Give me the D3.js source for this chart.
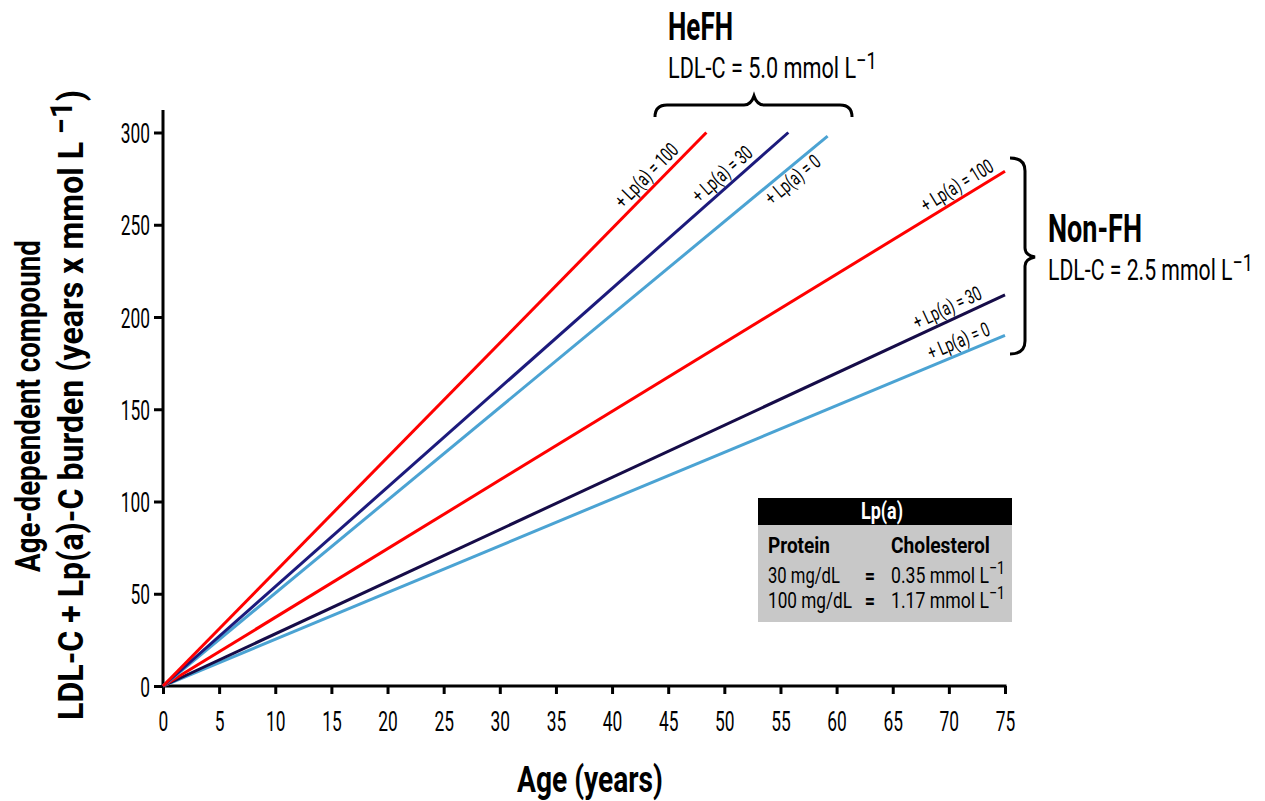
<!DOCTYPE html>
<html>
<head>
<meta charset="utf-8">
<script src="https://cdn.jsdelivr.net/npm/d3@7"></script>
<style>
  body { margin: 0; background: #fff; }
  svg { display: block; }
</style>
</head>
<body>
<svg id="chart" width="1265" height="801"></svg>
<script>
// ---- data ----
var xTicks = [0, 5, 10, 15, 20, 25, 30, 35, 40, 45, 50, 55, 60, 65, 70, 75];
var yTicks = [0, 50, 100, 150, 200, 250, 300];

var groups = ["HeFH", "HeFH", "HeFH", "Non-FH", "Non-FH", "Non-FH"];
var lpaLabels = ["+ Lp(a) = 100", "+ Lp(a) = 30", "+ Lp(a) = 0", "+ Lp(a) = 100", "+ Lp(a) = 30", "+ Lp(a) = 0"];
var endAge = [48.4, 55.7, 59.2, 75, 75, 75];
var endBurden = [300, 300, 298, 279, 212, 190];
var labelAge = [46.4, 53.0, 57.7, 74.4, 73.3, 74.0];
var labelSide = ["above", "above", "below", "above", "above", "above"];
var lineColors = ["#ff0000", "#1c1a7c", "#4ba3d3", "#ff0000", "#160c48", "#4ba3d3"];

var tableHead = "Lp(a)";
var tableCols = ["Protein", "Cholesterol"];
var tableProtein = ["30 mg/dL", "100 mg/dL"];
var tableChol = ["0.35", "1.17"];

var FONT = "Roboto, 'Liberation Sans', sans-serif";

var svg = d3.select("#chart");

var margin = { top: 132.5, left: 163, bottom: 115, right: 260 };
var svgWidth = 1265, svgHeight = 801;

var x = d3.scaleLinear().domain([0, 75]).range([margin.left, svgWidth - margin.right]);
var y = d3.scaleLinear().domain([0, 300]).range([svgHeight - margin.bottom, margin.top]);

// text helper: condensed look via horizontal scale, optionally fitted to a width
function addText(parent, px, py, parts, o) {
  var g = parent.append("g");
  var t = g.append("text")
    .attr("y", o.dy || 0)
    .attr("font-family", FONT)
    .attr("font-size", o.size)
    .attr("font-weight", o.weight || "normal")
    .attr("fill", o.fill || "#000")
    .attr("text-anchor", o.anchor || "start");
  var raised = 0;
  parts.forEach(function (p) {
    var ts = t.append("tspan").text(p.t);
    if (p.sup) {
      var up = o.size * (p.up || 0.32);
      ts.attr("font-size", o.size * (p.scale || 0.85)).attr("dy", -up);
      raised = up;
    } else if (raised) {
      ts.attr("dy", raised);
      raised = 0;
    }
  });
  var sx = o.sx || 1;
  if (o.width) sx = o.width / t.node().getBBox().width;
  g.attr("transform", "translate(" + px + "," + py + ") rotate(" + (o.rotate || 0) + ") scale(" + sx + ",1)");
  return t;
}

// ---- axes ----
var axisG = svg.append("g").attr("class", "axes");

var xAxisG = axisG.append("g")
  .attr("transform", "translate(0," + y(0) + ")")
  .call(d3.axisBottom(x).tickValues(xTicks).tickSize(8).tickSizeOuter(0));
xAxisG.select(".domain").remove();
xAxisG.selectAll(".tick line").attr("stroke", "#000").attr("stroke-width", 3);
xAxisG.selectAll(".tick text")
  .attr("y", 0).attr("dy", 0)
  .attr("transform", "translate(0,45) scale(0.62,1)")
  .attr("font-family", FONT).attr("font-size", 28).attr("fill", "#000");

var yAxisG = axisG.append("g")
  .attr("transform", "translate(" + x(0) + ",0)")
  .call(d3.axisLeft(y).tickValues(yTicks).tickSize(9).tickSizeOuter(0));
yAxisG.select(".domain").remove();
yAxisG.selectAll(".tick line").attr("stroke", "#000").attr("stroke-width", 3);
yAxisG.selectAll(".tick text")
  .attr("x", 0).attr("dy", 0)
  .attr("transform", "translate(-13,10) scale(0.62,1)")
  .attr("font-family", FONT).attr("font-size", 28).attr("fill", "#000");

axisG.append("line")
  .attr("x1", x(0) - 1.5).attr("x2", x(75) + 1.5)
  .attr("y1", y(0)).attr("y2", y(0))
  .attr("stroke", "#000").attr("stroke-width", 3);
axisG.append("line")
  .attr("x1", x(0)).attr("x2", x(0))
  .attr("y1", y(0) + 1.5).attr("y2", 110)
  .attr("stroke", "#000").attr("stroke-width", 3);

// ---- burden lines ----
var line = d3.line().x(function (d) { return x(d[0]); }).y(function (d) { return y(d[1]); });
var linesG = svg.append("g").attr("class", "lines");
var order = [5, 4, 3, 2, 1, 0];
order.forEach(function (i) {
  linesG.append("path")
    .attr("d", line([[0, 0], [endAge[i], endBurden[i]]]))
    .attr("fill", "none")
    .attr("stroke", lineColors[i])
    .attr("stroke-width", 3);
});

// line labels, rotated along each line; one common squeeze taken from the widest label
var labelsG = svg.append("g").attr("class", "lineLabels");
var probe = labelsG.append("text").attr("font-family", FONT).attr("font-size", 20).text(lpaLabels[0]);
var labelSx = 81 / probe.node().getBBox().width;
probe.remove();
for (var i = 0; i < lpaLabels.length; i++) {
  var a = labelAge[i];
  var px = x(a);
  var py = y(endBurden[i] * a / endAge[i]);
  var ang = Math.atan2(y(endBurden[i]) - y(0), x(endAge[i]) - x(0)) * 180 / Math.PI;
  addText(labelsG, px, py, [{ t: lpaLabels[i] }], {
    size: 20, sx: labelSx, rotate: ang, anchor: "end",
    dy: labelSide[i] == "above" ? -6 : 18
  });
}

// ---- braces + group titles ----
var annG = svg.append("g").attr("class", "annotations");
annG.append("path")
  .attr("d", "M655,117 Q655,105 667,105 L744,105 Q751,105 754,96 Q757,105 764,105 L840,105 Q852,105 852,117")
  .attr("fill", "none").attr("stroke", "#000").attr("stroke-width", 3);
annG.append("path")
  .attr("d", "M1010,158 Q1025,158 1025,171 L1025,248 Q1025,255 1035,257 Q1025,259 1025,266 L1025,341 Q1025,354 1010,354")
  .attr("fill", "none").attr("stroke", "#000").attr("stroke-width", 3);

addText(annG, 668, 40, [{ t: groups[0] }], { size: 38, weight: "bold", width: 65 });
addText(annG, 668, 78, [{ t: "LDL-C = 5.0 mmol L" }, { t: "\u22121", sup: true, up: 0.32, scale: 0.85 }], { size: 29, width: 209 });
addText(annG, 1048, 242, [{ t: groups[3] }], { size: 38, weight: "bold", width: 94 });
addText(annG, 1048, 280, [{ t: "LDL-C = 2.5 mmol L" }, { t: "\u22121", sup: true, up: 0.32, scale: 0.85 }], { size: 29, width: 205 });

// ---- Lp(a) conversion table ----
var tabG = svg.append("g").attr("class", "table");
tabG.append("rect").attr("x", 758).attr("y", 525).attr("width", 254).attr("height", 97).attr("fill", "#c8c8c8");
tabG.append("rect").attr("x", 758).attr("y", 498).attr("width", 254).attr("height", 27).attr("fill", "#000");
addText(tabG, 882, 519, [{ t: tableHead }], { size: 23, weight: "bold", width: 42, fill: "#fff", anchor: "middle" });
addText(tabG, 768, 553, [{ t: tableCols[0] }], { size: 22.5, weight: "bold", width: 62 });
addText(tabG, 891, 553, [{ t: tableCols[1] }], { size: 22.5, weight: "bold", width: 99 });
var protW = [72, 84];
for (var r = 0; r < tableProtein.length; r++) {
  var by = 583 + r * 25;
  addText(tabG, 768, by, [{ t: tableProtein[r] }], { size: 22.5, width: protW[r] });
  addText(tabG, 870, by, [{ t: "=" }], { size: 22.5, weight: "bold", sx: 0.8, anchor: "middle" });
  addText(tabG, 891, by, [{ t: tableChol[r] + " mmol L" }, { t: "\u22121", sup: true, up: 0.42, scale: 0.8 }], { size: 22.5, width: 114 });
}

// ---- axis titles ----
addText(svg, 590, 792, [{ t: "Age (years)" }], { size: 37, weight: "bold", width: 146, anchor: "middle" });
addText(svg, 40, 406, [{ t: "Age-dependent compound" }], { size: 35, weight: "bold", width: 332, rotate: -90, anchor: "middle" });
addText(svg, 83, 405, [{ t: "LDL-C + Lp(a)-C burden (years x mmol L " }, { t: "\u22121", sup: true, up: 0.32, scale: 0.9 }, { t: ")" }],
  { size: 35, weight: "bold", width: 630, rotate: -90, anchor: "middle" });
</script>
</body>
</html>
